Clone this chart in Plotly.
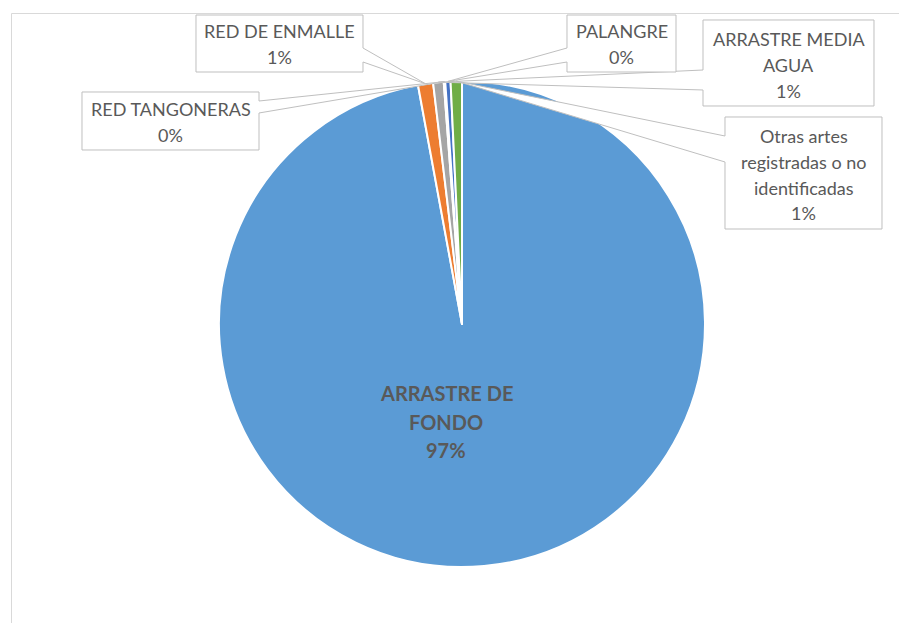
import math
import plotly.graph_objects as go

# data (percent of total)
categories = ["ARRASTRE DE FONDO", "RED DE ENMALLE", "ARRASTRE MEDIA AGUA",
              "RED TANGONERAS", "PALANGRE",
              "Otras artes registradas o no identificadas"]
values = [97.1, 1.0, 0.7, 0.1, 0.35, 0.75]
colors = ["#5B9BD5", "#ED7D31", "#A5A5A5", "#FFC000", "#4472C4", "#70AD47"]
# how each label is wrapped in its callout
label_lines = [["ARRASTRE DE", "FONDO"], ["RED DE ENMALLE"], ["ARRASTRE MEDIA", "AGUA"],
               ["RED TANGONERAS"], ["PALANGRE"],
               ["Otras artes", "registradas o no", "identificadas"]]

W, H = 899, 623
CX, CY, R = 462, 324, 243          # pie centre / radius in pixels
TEXT = "#595959"
FONT = "Lato"

def px(x):
    return x / W

def py(y):
    return 1 - y / H

fig = go.Figure()
fig.add_trace(go.Pie(labels=categories, values=values, sort=False,
                     direction="clockwise", rotation=0,
                     marker=dict(colors=colors, line=dict(color="white", width=2)),
                     textinfo="none", hoverinfo="label+percent",
                     domain=dict(x=[px(CX - R), px(CX + R)], y=[py(CY + R), py(CY - R)])))

total = sum(values)
pct = [round(100 * v / total) for v in values]

# slice mid angles (clockwise from 12 o'clock)
mids = []
acc = 0
for v in values:
    mids.append((acc + v / 2) / total * 2 * math.pi)
    acc += v

# callout boxes: (box x0, y0, x1, y1, wedge side, wedge base y0, y1, first text line y)
callouts = {
    2: (703, 20, 874, 106, "left", 70, 90, 39),
    1: (196, 15, 363, 72, "right", 48, 62, 31),
    3: (82, 92, 259, 150, "right", 101, 113, 109),
    4: (567, 15, 676, 72, "left", 48, 62, 31),
    5: (725, 117, 882, 229, "left", 136, 162, 136),
}
PITCH = 25.8

shapes = []
annotations = []
for i in [2, 1, 3, 4, 5]:
    x0, y0, x1, y1, side, wa, wb, ty = callouts[i]
    tx = CX + R * math.sin(mids[i])
    tyy = CY - R * math.cos(mids[i])
    if side == "right":
        pts = [(x0, y0), (x1, y0), (x1, wa), (tx, tyy), (x1, wb), (x1, y1), (x0, y1)]
    else:
        pts = [(x0, y0), (x1, y0), (x1, y1), (x0, y1), (x0, wb), (tx, tyy), (x0, wa)]
    path = "M " + " L ".join(f"{px(a):.5f},{py(b):.5f}" for a, b in pts) + " Z"
    shapes.append(dict(type="path", xref="paper", yref="paper", path=path,
                       fillcolor="white", line=dict(color="#BFBFBF", width=1), layer="above"))
    lines = label_lines[i] + [f"{pct[i]}%"]
    for k, s in enumerate(lines):
        annotations.append(dict(x=px((x0 + x1) / 2), y=py(ty + k * PITCH), xref="paper", yref="paper",
                                text=s, showarrow=False, xanchor="center", yanchor="middle",
                                font=dict(family=FONT, size=18, color=TEXT)))

# big slice label
big = label_lines[0] + [f"{pct[0]}%"]
for k, s in enumerate(big):
    annotations.append(dict(x=px(446), y=py(393 + k * 28.5), xref="paper", yref="paper",
                            text=f"<b>{s}</b>", showarrow=False, xanchor="center", yanchor="middle",
                            font=dict(family=FONT, size=20, color=TEXT)))

# chart area border
shapes.insert(0, dict(type="rect", xref="paper", yref="paper",
                      x0=px(11.5), y0=py(H + 20), x1=px(W + 20), y1=py(13.5),
                      line=dict(color="#D9D9D9", width=1), fillcolor="rgba(0,0,0,0)"))

fig.update_layout(width=W, height=H, margin=dict(l=0, r=0, t=0, b=0),
                  paper_bgcolor="white", plot_bgcolor="white", showlegend=False,
                  shapes=shapes, annotations=annotations)

fig.write_html("out.html", config={"displayModeBar": False},
               post_script="document.body.style.margin='0';document.body.style.overflow='hidden';")
